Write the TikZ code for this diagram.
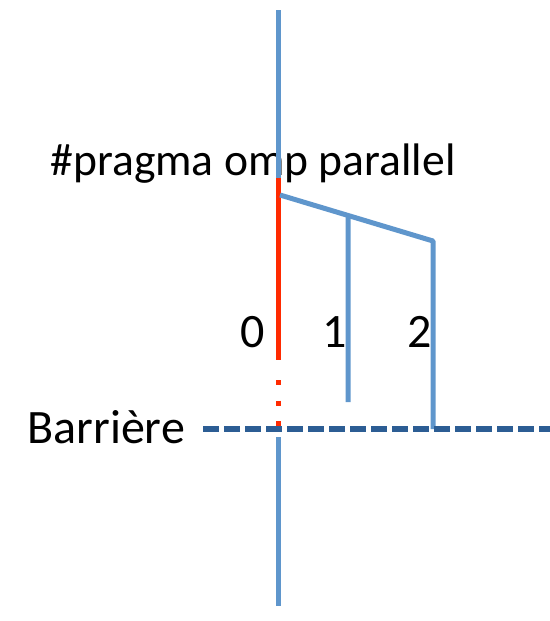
\documentclass[tikz,border=0pt]{standalone}
\usepackage{fontspec}
\setmainfont{Carlito}
\usepackage{tikz}
\usetikzlibrary{positioning,calc}
\definecolor{threadblue}{HTML}{5F96CC}
\definecolor{masterred}{HTML}{FF2A00}
\definecolor{barrierblue}{HTML}{2C5D94}

\begin{document}
\begin{tikzpicture}[x=0.5pt, y=-0.5pt,
    every node/.style={font=\fontsize{24}{28}\selectfont, inner sep=0pt},
    thread/.style={threadblue, line width=2.5pt},
    master/.style={masterred, line width=2.5pt},
    barrierline/.style={barrierblue, line width=2.6pt, dash pattern=on 8pt off 2.5pt}]
    \useasboundingbox (0,0) rectangle (550,621);
    % texts
    \node (pragma) [anchor=base, font=\fontsize{22.8}{27}\selectfont] at (253,175) {\#pragma omp parallel};
    \node (barrier) [anchor=base west] at (27,443) {Barrière};
    \node (t0) at (253,332) {0};
    \node (t1) at (335,332) {1};
    \node (t2) at (420,332) {2};
    % points
    \coordinate (top) at (278,10);
    \coordinate (fork) at (278,178);
    \coordinate (split) at (280,195);
    \coordinate (end0) at (278,360);
    \coordinate (end1) at (348,402);
    \coordinate (corner) at (433,241);
    \coordinate (join) at (433,429);
    \coordinate (bleft) at (203,429);
    \coordinate (bright) at (550,429);
    \coordinate (after) at (278,437);
    \coordinate (bottom) at (278,606);
    % threads
    \draw[thread] (top) -- (fork);
    \draw[master] (fork) -- (end0);
    \draw[master, dash pattern=on 2.5pt off 7.75pt] (278,380) -- (278,428);
    \draw[thread, line join=round] (split) -- (corner) -- (join);
    \draw[thread] ($(split)!0.445!(corner)$) -- (end1);
    \draw[barrierline] (bleft) -- (bright);
    \draw[thread] (after) -- (bottom);
\end{tikzpicture}
\end{document}
